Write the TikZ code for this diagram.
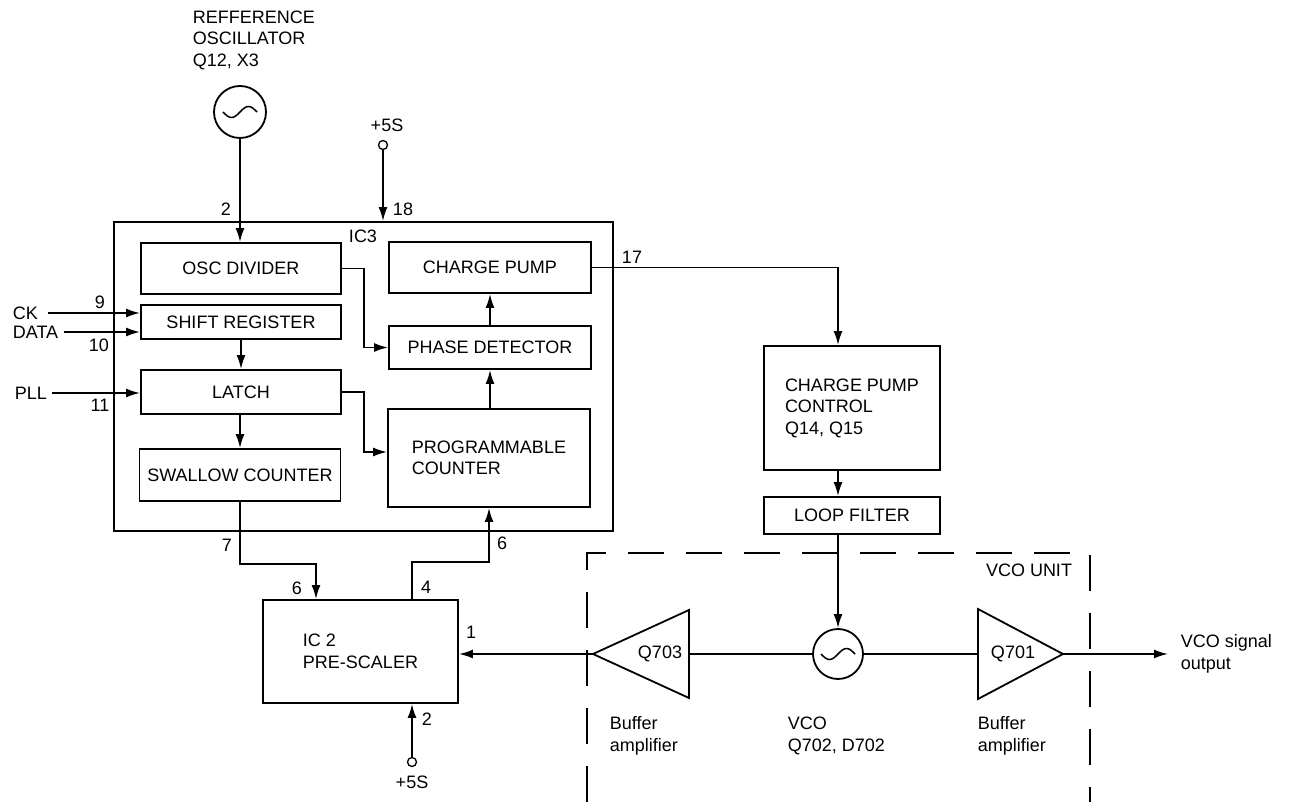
\documentclass[tikz,border=0pt]{standalone}
\usepackage{fontspec}
\setmainfont{Liberation Sans}
\usetikzlibrary{arrows.meta,calc}
\begin{document}
\begin{tikzpicture}[x=1pt,y=-1pt,line width=1.8pt,
  every node/.style={font=\fontsize{18}{21.5}\selectfont, inner sep=0pt},
  box/.style={draw, rectangle},
  arr/.style={-{Latex[length=14pt,width=9pt]}},
  term/.style={draw, circle, minimum size=9pt, line width=1.3pt},
  osci/.style={draw, circle},
  wave/.style={line width=1.5pt}]
\useasboundingbox (0,0) rectangle (1298,802);

% reference oscillator
\node[align=left, anchor=west] (reftxt) at (192,40) {REFFERENCE\\OSCILLATOR\\Q12, X3};
\node[osci, minimum size=52pt] (ro) at (240,112) {};
\draw[wave, shift={(ro.center)}] plot[domain=-17:17, samples=40, smooth] (\x,{-5.5*sin(\x*180/17)});

% +5S top
\node (vcc1txt) at (387,125) {+5S};
\node[term] (vcc1) at (383,145) {};

% IC3 frame
\node[box, minimum width=499pt, minimum height=309pt] (ic3) at (363.5,376.5) {};
\node (ic3lbl) at (363,236) {IC3};

% blocks inside IC3
\node[box, minimum width=200pt, minimum height=51pt] (osc) at (241,268.5) {OSC DIVIDER};
\node[box, minimum width=200pt, minimum height=34pt] (shift) at (241,322) {SHIFT REGISTER};
\node[box, minimum width=200pt, minimum height=44pt] (latch) at (241,392) {LATCH};
\node[box, minimum width=201pt, minimum height=52pt] (swallow) at (240,475) {SWALLOW COUNTER};
\node[box, minimum width=202pt, minimum height=51pt] (cp) at (490,267.5) {CHARGE PUMP};
\node[box, minimum width=202pt, minimum height=43pt] (pd) at (490,347.5) {PHASE DETECTOR};
\node[box, minimum width=202pt, minimum height=98pt, align=left] (prog) at (489,458) {PROGRAMMABLE\\COUNTER};

% prescaler
\node[box, minimum width=195pt, minimum height=103pt, align=left] (pre) at (360.5,651.5) {IC 2\\PRE-SCALER};
\node[term] (vcc2) at (412,762) {};
\node (vcc2txt) at (412,782) {+5S};

% charge pump control, loop filter
\node[box, minimum width=176pt, minimum height=124pt, align=left] (cpc) at (852,408) {CHARGE PUMP\\CONTROL\\Q14, Q15};
\node[box, minimum width=176pt, minimum height=37pt] (lf) at (852,515.5) {LOOP FILTER};

% inputs
\node[anchor=west] (ck) at (12,313) {CK};
\node[anchor=west] (data) at (12,332) {DATA};
\node[anchor=west] (pll) at (14,393) {PLL};

% VCO unit
\draw[dash pattern=on 36pt off 22pt] (587,802) -- (587,553) -- (1090,553) -- (1090,802);
\node (vcounit) at (1029,570) {VCO UNIT};
\coordinate (q703tip) at (593,654);
\coordinate (q703r) at (689,654);
\draw (q703tip) -- (689,610) -- (689,698) -- cycle;
\node (q703) at (660,654) {Q703};
\node[osci, minimum size=50pt] (vco) at (838,654) {};
\draw[wave, shift={(vco.center)}] plot[domain=-17:17, samples=40, smooth] (\x,{-5.5*sin(\x*180/17)});
\coordinate (q701l) at (978,654);
\coordinate (q701tip) at (1063,654);
\draw (978,609) -- (q701tip) -- (978,699) -- cycle;
\node (q701) at (1013,654) {Q701};
\coordinate (outend) at (1168,654);
\node[align=left, anchor=west] (outtxt) at (1180,654) {VCO signal\\output};
\node[align=left, anchor=west] (buf1) at (609,736) {Buffer\\amplifier};
\node[align=left, anchor=west] (vcotxt) at (787,736) {VCO\\Q702, D702};
\node[align=left, anchor=west] (buf2) at (977,736) {Buffer\\amplifier};

% connectors
\draw[arr] (ro.south) -- (ro.south |- osc.north);
\draw[arr] (vcc1.south) -- (vcc1.south |- ic3.north);
\draw[arr] (osc.east) -- ++(22,0) |- (pd.west);
\draw[arr] (pd.north) -- (cp.south);
\draw[arr] (prog.north -| pd.south) -- (pd.south);
\draw[arr] (cp.east) -| (cpc.north -| vco.north);
\draw[arr] (cpc.south -| vco.north) -- (lf.north -| vco.north);
\draw[arr] (lf.south -| vco.north) -- (vco.north);
\draw[arr] ([xshift=9pt]ck.east) -- (ck.east -| shift.west);
\draw[arr] ([xshift=5pt]data.east) -- (data.east -| shift.west);
\draw[arr] ([xshift=4pt]pll.east) -- (pll.east -| latch.west);
\draw[arr] (shift.south) -- (latch.north);
\draw[arr] (latch.south -| swallow.north) -- (swallow.north);
\draw[arr] (latch.east) -- ++(22,0) |- ([yshift=6pt]prog.west);
\draw[arr] (swallow.south) -- ++(0,62) -| ([xshift=-44.5pt]pre.north);
\draw[arr] ([xshift=51.5pt]pre.north) -- ++(0,-37) -| (prog.south);
\draw[arr] (vcc2.north) -- (vcc2.north |- pre.south);
\draw[arr] (q703tip) -- (q703tip -| pre.east);
\draw (q703r) -- (vco.west);
\draw (vco.east) -- (q701l);
\draw[arr] (q701tip) -- (outend);

% pin numbers
\node (p2a) at (226,209) {2};
\node (p18) at (403,209) {18};
\node (p17) at (632,257) {17};
\node (p9) at (100,302) {9};
\node (p10) at (99,345) {10};
\node (p11) at (100,405) {11};
\node (p7) at (227,545) {7};
\node (p6a) at (297,588) {6};
\node (p4) at (426,587) {4};
\node (p6b) at (502,543) {6};
\node (p1) at (471,632) {1};
\node (p2b) at (427,719) {2};
\end{tikzpicture}
\end{document}
